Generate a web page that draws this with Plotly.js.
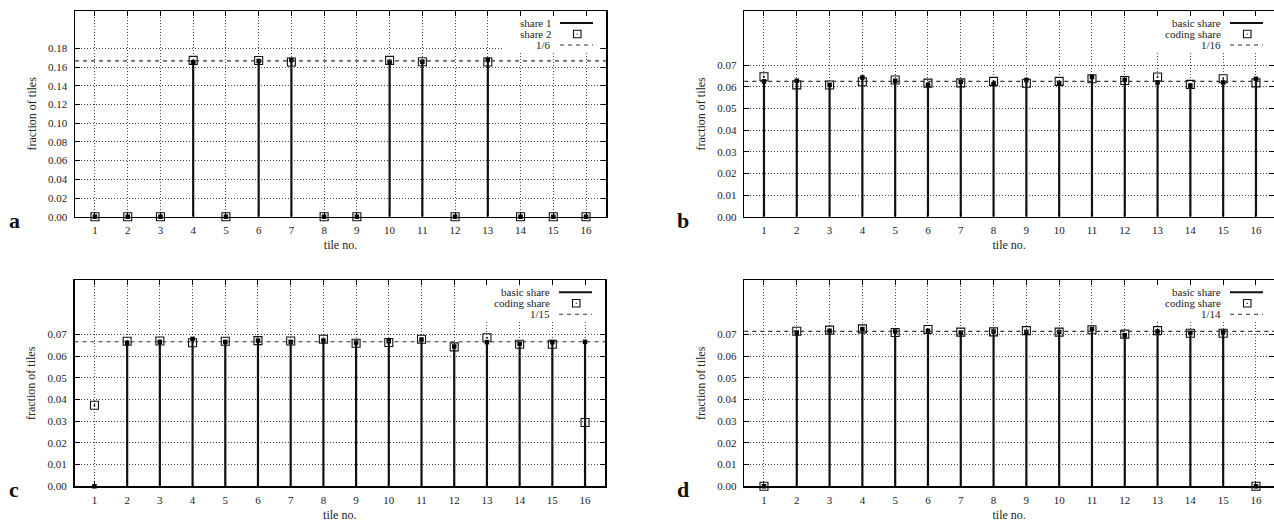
<!DOCTYPE html>
<html>
<head>
<meta charset="utf-8">
<script src="https://cdn.plot.ly/plotly-3.0.1.min.js"></script>
<style>html,body{margin:0;padding:0;background:#fff;}#chart{width:1274px;height:523px;}</style>
</head>
<body>
<div id="chart"></div>
<script>
// ---------- data ----------
const tiles = [1,2,3,4,5,6,7,8,9,10,11,12,13,14,15,16];
const xTickLabels = ["1","2","3","4","5","6","7","8","9","10","11","12","13","14","15","16"];

const aShare1 = [0,0,0,0.1651,0,0.1665,0.1676,0,0,0.1655,0.1658,0,0.1679,0,0,0];
const aShare2 = [0,0,0,0.1672,0,0.1670,0.1655,0,0,0.1672,0.1658,0,0.1655,0,0,0];
const bBasic  = [0.0625,0.0628,0.0609,0.0643,0.0628,0.0609,0.0623,0.0612,0.0631,0.0617,0.0645,0.0632,0.0620,0.0606,0.0620,0.0637];
const bCoding = [0.0646,0.0609,0.0608,0.0623,0.0631,0.0617,0.0618,0.0625,0.0616,0.0625,0.0637,0.0629,0.0645,0.0611,0.0637,0.0618];
const cBasic  = [0,0.0662,0.0666,0.0680,0.0666,0.0672,0.0666,0.0672,0.0663,0.0669,0.0677,0.0645,0.0665,0.0658,0.0665,0.0666];
const cCoding = [0.0374,0.0669,0.0670,0.0662,0.0669,0.0672,0.0670,0.0678,0.0660,0.0663,0.0678,0.0643,0.0685,0.0655,0.0655,0.0294];
const dBasic  = [0,0.0709,0.0717,0.0725,0.0714,0.0717,0.0709,0.0714,0.0712,0.0712,0.0726,0.0697,0.0714,0.0708,0.0712,0];
const dCoding = [0,0.0715,0.0720,0.0726,0.0709,0.0723,0.0711,0.0712,0.0718,0.0711,0.0722,0.0702,0.0718,0.0706,0.0706,0];

const refValues = [1/6, 1/16, 1/15, 1/14];
const refLabels = ["1/6", "1/16", "1/15", "1/14"];
const series1Labels = ["share 1", "basic share", "basic share", "basic share"];
const series2Labels = ["share 2", "coding share", "coding share", "coding share"];
const panelLetters = ["a", "b", "c", "d"];

const yTicksA = [0,0.02,0.04,0.06,0.08,0.10,0.12,0.14,0.16,0.18];
const yTicksB = [0,0.01,0.02,0.03,0.04,0.05,0.06,0.07];

// ---------- layout geometry (pixels) ----------
const W = 1274, H = 523;
const px = v => v / W;
const py = v => 1 - v / H;
const panels = [
  {L:75,    R:606,  T:11,    B:216.7, xr:[0.39,16.61], yr:[0,0.22],  yt:yTicksA, s1:aShare1, s2:aShare2, boxW:104},
  {L:744.3, R:1276, T:11,    B:216.7, xr:[0.40,16.55], yr:[0,0.095], yt:yTicksB, s1:bBasic,  s2:bCoding, boxW:129},
  {L:74.5,  R:605,  T:280.3, B:486.3, xr:[0.39,16.61], yr:[0,0.095], yt:yTicksB, s1:cBasic,  s2:cCoding, boxW:129},
  {L:744.3, R:1276, T:280.3, B:486.3, xr:[0.40,16.55], yr:[0,0.095], yt:yTicksB, s1:dBasic,  s2:dCoding, boxW:129}
];

const FONT = "Liberation Serif, Times New Roman, serif";
const data = [];
const layout = {
  width: W, height: H,
  margin: {l:0, r:0, t:0, b:0},
  paper_bgcolor: "#fff", plot_bgcolor: "#fff",
  showlegend: false,
  font: {family: FONT, size: 11, color: "#222"},
  shapes: [], annotations: []
};

panels.forEach((p, k) => {
  const n = k === 0 ? "" : String(k + 1);
  const xa = "x" + n, ya = "y" + n;
  // impulses
  const ix = [], iy = [];
  tiles.forEach((t, i) => { ix.push(t, t, null); iy.push(0, p.s1[i], null); });
  data.push({type:"scatter", mode:"lines", x:ix, y:iy, xaxis:xa, yaxis:ya,
    line:{color:"#111", width:2.2}, hoverinfo:"skip", name:series1Labels[k]});
  // coding share (open squares)
  data.push({type:"scatter", mode:"markers", x:tiles, y:p.s2, xaxis:xa, yaxis:ya, cliponaxis:false,
    marker:{symbol:"square-open-dot", size:8, color:"#111", line:{width:1.1, color:"#111"}}, name:series2Labels[k]});
  // basic share points
  data.push({type:"scatter", mode:"markers", x:tiles, y:p.s1, xaxis:xa, yaxis:ya, cliponaxis:false,
    marker:{symbol:"square", size:4.5, color:"#000"}, name:series1Labels[k] + " points"});

  const Rc = Math.min(p.R, W);
  layout["xaxis" + n] = {
    domain:[px(p.L), px(Rc)], anchor:ya, range:p.xr,
    tickvals:tiles, ticktext:xTickLabels,
    ticks:"inside", ticklen:5, tickcolor:"#000", tickwidth:1,
    showline:true, linecolor:"#000", linewidth:1.5, mirror:"allticks",
    showgrid:true, gridcolor:"#444", griddash:"1px,2px", gridwidth:1, zeroline:false,
    tickfont:{family:FONT, size:11, color:"#222"}, ticklabelstandoff:3,
    title:{text:"tile no.", font:{family:FONT, size:12, color:"#222"}, standoff:5}
  };
  layout["yaxis" + n] = {
    domain:[py(p.B), py(p.T)], anchor:xa, range:p.yr,
    tickvals:p.yt, tickformat:".2f",
    ticks:"inside", ticklen:5, tickcolor:"#000", tickwidth:1,
    showline:true, linecolor:"#000", linewidth:1.5, mirror:"allticks",
    showgrid:true, gridcolor:"#444", griddash:"1px,2px", gridwidth:1, zeroline:false,
    tickfont:{family:FONT, size:11, color:"#222"}, ticklabelstandoff:4,
    title:{text:"fraction of tiles", font:{family:FONT, size:12, color:"#222"}, standoff:9}
  };

  // reference line 1/n
  layout.shapes.push({type:"line", xref:xa + " domain", yref:ya, x0:0, x1:1, y0:refValues[k], y1:refValues[k],
    line:{color:"#333", width:1.1, dash:"4px,4px"}, layer:"above"});

  // key box (white background, no border)
  const R = p.R, T = p.T;
  layout.shapes.push({type:"rect", xref:"paper", yref:"paper", x0:px(R - p.boxW), x1:px(Math.min(R - 8, W)),
    y0:py(T + 41), y1:py(T + 6), fillcolor:"#fff", line:{width:0}, layer:"above"});
  const rows = [T + 12, T + 23, T + 34];
  const labels = [series1Labels[k], series2Labels[k], refLabels[k]];
  labels.forEach((txt, j) => {
    layout.annotations.push({xref:"paper", yref:"paper", x:px(R - 53), y:py(rows[j]), text:txt,
      showarrow:false, xanchor:"right", yanchor:"middle", font:{family:FONT, size:11, color:"#222"}});
  });
  layout.shapes.push({type:"line", xref:"paper", yref:"paper", x0:px(R - 46), x1:px(R - 13),
    y0:py(rows[0]), y1:py(rows[0]), line:{color:"#111", width:2}, layer:"above"});
  layout.shapes.push({type:"rect", xref:"paper", yref:"paper", x0:px(R - 32.5), x1:px(R - 25),
    y0:py(rows[1] + 3.75), y1:py(rows[1] - 3.75), line:{color:"#111", width:1.1}, fillcolor:"rgba(0,0,0,0)", layer:"above"});
  layout.shapes.push({type:"rect", xref:"paper", yref:"paper", x0:px(R - 29.3), x1:px(R - 28.2),
    y0:py(rows[1] + 0.6), y1:py(rows[1] - 0.6), line:{width:0}, fillcolor:"#111", layer:"above"});
  layout.shapes.push({type:"line", xref:"paper", yref:"paper", x0:px(R - 46), x1:px(R - 13),
    y0:py(rows[2]), y1:py(rows[2]), line:{color:"#333", width:1.1, dash:"4px,4px"}, layer:"above"});

  // panel letter
  layout.annotations.push({xref:"paper", yref:"paper", x:px(p.L - 61), y:py(p.B + 18),
    text:"<b>" + panelLetters[k] + "</b>", showarrow:false, xanchor:"center", yanchor:"bottom",
    font:{family:FONT, size:22, color:"#111"}});
});

Plotly.newPlot("chart", data, layout, {staticPlot:true, displayModeBar:false});
</script>
</body>
</html>
